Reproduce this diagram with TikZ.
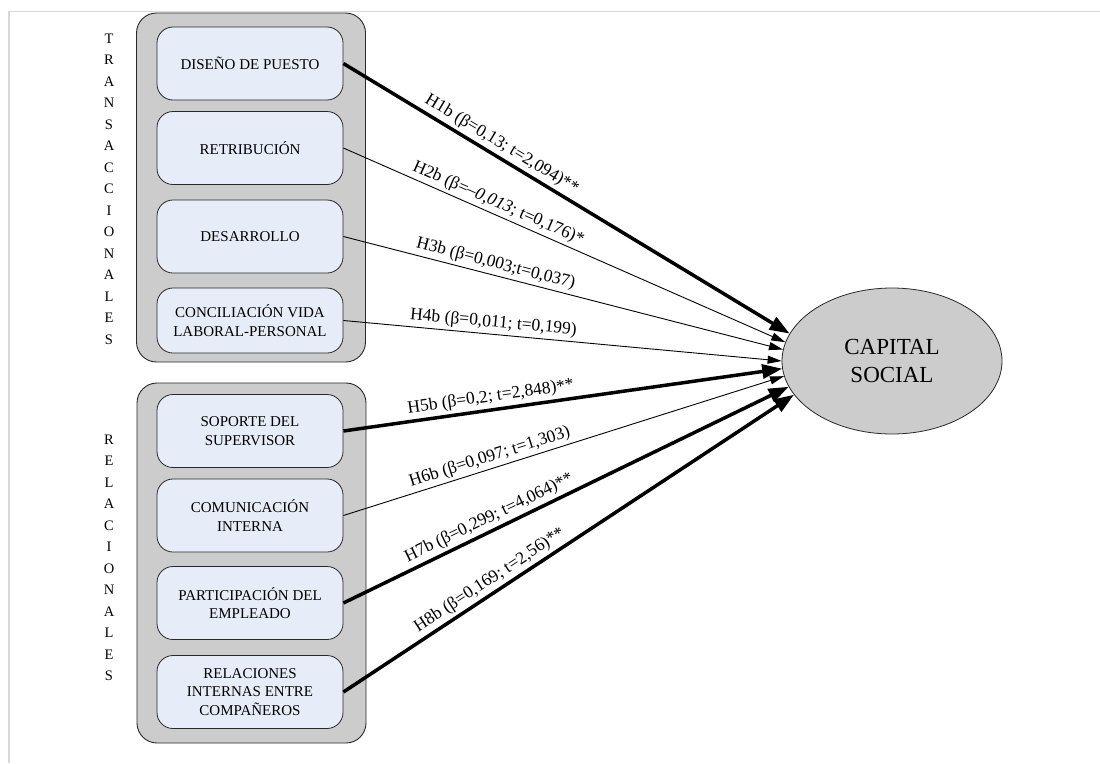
\documentclass[tikz,border=0pt]{standalone}
\usepackage{fontspec}
\setmainfont{Liberation Serif}
\usetikzlibrary{arrows.meta,shapes.geometric}
\definecolor{boxfill}{RGB}{231,237,248}
\definecolor{groupfill}{RGB}{204,204,204}
\definecolor{framegray}{RGB}{216,216,216}
\definecolor{edge}{RGB}{40,40,40}

\begin{document}
\begin{tikzpicture}[x=1pt,y=-1pt,
  group/.style={draw=edge, fill=groupfill, rounded corners=20pt, line width=0.9pt,
    minimum width=229pt, inner sep=0pt},
  item/.style={draw=edge, fill=boxfill, rounded corners=16pt, line width=0.8pt,
    minimum width=186pt, minimum height=73pt, align=center, inner sep=0pt,
    font=\fontsize{15}{18.5}\selectfont},
  sidetext/.style={align=center, inner sep=0pt, font=\fontsize{14.5}{21.5}\selectfont},
  target/.style={ellipse, draw=edge, fill=groupfill, line width=0.8pt,
    minimum width=220pt, minimum height=146pt, inner sep=0pt, align=center,
    font=\fontsize{23}{28}\selectfont},
  strong/.style={line width=3.5pt, -{Triangle[length=20pt,width=14pt]}},
  weak/.style={line width=0.9pt, -{Triangle[length=14pt,width=8pt]}},
  lab/.style={sloped, above, pos=0.34, inner sep=3pt, font=\fontsize{17.5}{20}\selectfont}
]
\useasboundingbox (0,0) rectangle (1100,763);

% page frame
\draw[framegray, line width=1.5pt] (9,763) -- (9,11.5) -- (1100,11.5);

% construct groups
\node[group, minimum height=349pt] (gT) at (251,187.5) {};
\node[group, minimum height=360pt] (gR) at (251.5,563) {};

% side captions
\node[sidetext] (tT) at (109,189) {T\\R\\A\\N\\S\\A\\C\\C\\I\\O\\N\\A\\L\\E\\S};
\node[sidetext] (tR) at (109,558) {R\\E\\L\\A\\C\\I\\O\\N\\A\\L\\E\\S};

% transactional practices
\node[item] (b1) at (250,63.5) {DISEÑO DE PUESTO};
\node[item] (b2) at (250,148) {RETRIBUCIÓN};
\node[item] (b3) at (250,236.5) {DESARROLLO};
\node[item, minimum height=65pt] (b4) at (250,320.5) {CONCILIACIÓN VIDA\\LABORAL-PERSONAL};

% relational practices
\node[item] (b5) at (250,431) {SOPORTE DEL\\SUPERVISOR};
\node[item] (b6) at (250,515.5) {COMUNICACIÓN\\INTERNA};
\node[item] (b7) at (250,603) {PARTICIPACIÓN DEL\\EMPLEADO};
\node[item] (b8) at (250,692) {RELACIONES\\INTERNAS ENTRE\\COMPAÑEROS};

% outcome
\node[target] (cs) at (892,361) {CAPITAL\\SOCIAL};

% hypothesised paths
\draw[strong] (b1.east) -- node[lab] {H1b (β=0,13; t=2,094)**} (cs.165);
\draw[weak]   (b2.east) -- node[lab] {H2b (β=\textit{–0,013}; t=0,176)*} (cs.170);
\draw[weak]   (b3.east) -- node[lab] {H3b (β=0,003;t=0,037)} (cs.174);
\draw[weak]   (b4.east) -- node[lab] {H4b (β=0,011; t=0,199)} (cs.180);
\draw[strong] (b5.east) -- node[lab] {H5b (β=0,2; t=2,848)**} (cs.184);
\draw[weak]   (b6.east) -- node[lab] {H6b (β=0,097; t=1,303)} (cs.188);
\draw[strong] (b7.east) -- node[lab] {H7b (β=0,299; t=4,064)**} (cs.194);
\draw[strong] (b8.east) -- node[lab] {H8b (β=0,169; t=2,56)**} (cs.199);
\end{tikzpicture}
\end{document}
